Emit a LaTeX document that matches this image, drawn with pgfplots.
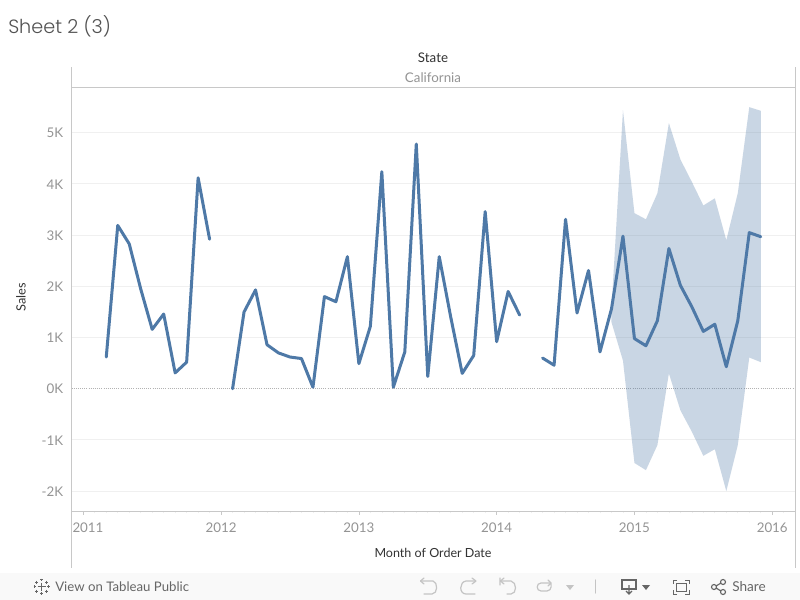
\documentclass[border=0pt]{standalone}
\usepackage{pgfplots}
\pgfplotsset{compat=1.18}
\usepackage{fontspec}
\setmainfont{Open Sans}
\newfontfamily\titlef{Poppins Light}
\newfontfamily\labf{Lato}
\definecolor{lineblue}{HTML}{4E79A7}
\definecolor{gridc}{HTML}{F0F0F0}
\definecolor{axc}{HTML}{C8C8C8}
\definecolor{tickc}{HTML}{949494}
\definecolor{darkc}{HTML}{333333}
\definecolor{barbg}{HTML}{F9F9F9}
\definecolor{iconc}{HTML}{666666}
\definecolor{icond}{HTML}{C4C4C4}
\pgfplotstableread{
m v
2 0.62
3 3.19
4 2.83
5 1.95
6 1.16
7 1.46
8 0.31
9 0.52
10 4.12
11 2.92
12 nan
13 0.00
14 1.50
15 1.93
16 0.86
17 0.70
18 0.62
19 0.59
20 0.03
21 1.80
22 1.70
23 2.58
24 0.49
25 1.22
26 4.24
27 0.03
28 0.72
29 4.78
30 0.24
31 2.58
32 1.40
33 0.30
34 0.65
35 3.46
36 0.92
37 1.90
38 1.44
39 nan
40 0.60
41 0.46
42 3.31
43 1.48
44 2.31
45 0.72
46 1.56
47 2.98
48 0.98
49 0.84
50 1.33
51 2.74
52 2.02
53 1.60
54 1.12
55 1.26
56 0.43
57 1.33
58 3.05
59 2.97
}\salesdata
\begin{document}
\begin{tikzpicture}
\begin{scope}[x=0.75pt,y=-0.75pt]
\path[use as bounding box] (0,0) rectangle (800,600);
\fill[white] (0,0) rectangle (800,600);
\fill[barbg] (0,573) rectangle (800,600);
\end{scope}
\begin{axis}[
  at={(53.625pt,-383.45pt)}, anchor=south west,
  scale only axis, width=542.6pt, height=318pt,
  xmin=-1.028, xmax=61.98, ymin=-2.393, ymax=5.889,
  axis line style={draw=axc,line width=0.75pt},
  axis x line*=bottom, axis y line*=left,
  xtick={0,12,24,36,48,60},
  xticklabels={\hspace*{7pt}2011,2012,2013,2014,2015,2016},
  minor xtick={1,2,3,4,5,6,7,8,9,10,11,13,14,15,16,17,18,19,20,21,22,23,25,26,27,28,29,30,31,32,33,34,35,37,38,39,40,41,42,43,44,45,46,47,49,50,51,52,53,54,55,56,57,58,59,61},
  ytick={-2,-1,1,2,3,4,5},
  yticklabels={-2K,-1K,1K,2K,3K,4K,5K},
  extra y ticks={0}, extra y tick labels={0K},
  extra y tick style={grid=major,major grid style={draw=black!30,line width=0.6pt,densely dotted}},
  ymajorgrids, major grid style={draw=gridc,line width=0.75pt},
  tick align=outside,
  major tick length=2.5pt, minor tick length=1.5pt,
  x tick style={draw=axc,line width=0.5pt}, y tick style={draw=none},
  minor x tick style={draw=gridc,line width=0.5pt},
  tick label style={font=\labf\fontsize{10}{11}\selectfont,text=tickc},
  /pgf/number format/assume math mode=true,
  xticklabel style={yshift=-2.5pt},
  yticklabel style={xshift=-0.2pt,yshift=-0.3pt},
  unbounded coords=jump,
  clip=false,
]
\addplot[draw=none,fill=lineblue,fill opacity=0.3] coordinates {
(46,1.56)(47,5.44)(48,3.43)(49,3.31)(50,3.82)(51,5.19)(52,4.48)(53,4.04)(54,3.58)(55,3.72)(56,2.90)(57,3.82)(58,5.50)(59,5.43)
(59,0.52)(58,0.61)(57,-1.10)(56,-2.00)(55,-1.18)(54,-1.31)(53,-0.84)(52,-0.42)(51,0.30)(50,-1.10)(49,-1.59)(48,-1.45)(47,0.55)(46,1.30)
} --cycle;
\addplot[draw=lineblue,line width=2.25pt,line join=round,line cap=round] table[x=m,y=v] {\salesdata};
\end{axis}
\begin{scope}[x=0.75pt,y=-0.75pt]
% frame lines
\draw[axc,line width=0.75pt] (71.5,67) -- (71.5,568);
\draw[axc,line width=0.75pt] (795.5,67) -- (795.5,568);
\draw[axc,line width=0.75pt] (71.5,87.5) -- (795.5,87.5);
% texts
\node[anchor=west,inner sep=0,text=darkc!85] at (8,26) {\titlef\fontsize{14.4}{18}\selectfont Sheet 2 (3)};
\node[inner sep=0,text=darkc] at (433,58) {\labf\fontsize{10}{11}\selectfont State};
\node[inner sep=0,text=tickc] at (433,78) {\labf\fontsize{10}{11}\selectfont California};
\node[inner sep=0,text=darkc,rotate=90] at (21,297) {\labf\fontsize{9.6}{11}\selectfont Sales};
\node[inner sep=0,text=darkc] at (433,553) {\labf\fontsize{9.4}{11}\selectfont Month of Order Date};
\node[anchor=west,inner sep=0,text=iconc] at (55,587) {\labf\fontsize{9.9}{11}\selectfont View on Tableau Public};
\node[anchor=west,inner sep=0,text=iconc] at (732,587) {\labf\fontsize{10.2}{11}\selectfont Share};
% tableau logo
\begin{scope}[draw=iconc,line width=0.75pt]
\draw (41.5,582.5)--(41.5,590.5) (37.5,586.5)--(45.5,586.5);
\draw (41.5,578.5)--(41.5,581) (40,579.8)--(43,579.8);
\draw (41.5,592)--(41.5,594.5) (40,593.2)--(43,593.2);
\draw (33.5,586.5)--(36,586.5) (34.8,585)--(34.8,588);
\draw (47,586.5)--(49.5,586.5) (48.2,585)--(48.2,588);
\draw (36.5,580.5)--(36.5,583.5) (35,582)--(38,582);
\draw (46.5,580.5)--(46.5,583.5) (45,582)--(48,582);
\draw (36.5,589.5)--(36.5,592.5) (35,591)--(38,591);
\draw (46.5,589.5)--(46.5,592.5) (45,591)--(48,591);
\end{scope}
% undo / redo group
\begin{scope}[draw=icond,line width=0.9pt,line cap=round]
\draw (421,581) -- (433,581) .. controls (438,582) and (438,594) .. (432,594) -- (424,594);
\draw (420.5,581)--(424,578) (420.5,581)--(424,584);
\draw (475,581) -- (466,581) .. controls (459,582) and (459,594) .. (466,594) -- (475,594);
\draw (476,581)--(472,578) (476,581)--(472,584);
\draw (500,578)--(500,585) (500,581) -- (511,581) .. controls (517,582) and (517,594) .. (511,594) -- (507,594);
\draw (500.5,581)--(504,578) (500.5,581)--(504,584);
\draw (551,583)--(541,583) .. controls (536,583) and (536,591) .. (541,591) -- (547,591) .. controls (552,591) and (552,583) .. (550,583);
\draw (551,583)--(548,580) (551,583)--(548,586);
\fill[icond] (566,585)--(574,585)--(570,590)--cycle;
\draw (595.5,580)--(595.5,593);
\end{scope}
% download, fullscreen, share
\begin{scope}[draw=iconc,line width=0.85pt]
\draw (622,580) rectangle (636,589);
\draw (629,585)--(629,594) (626,591)--(629,594)--(632,591);
\fill[iconc] (642,585)--(650,585)--(646,590)--cycle;
\draw[line width=0.7pt] (673,584)--(673,580)--(677,580) (685,580)--(689,580)--(689,584) (689,590)--(689,594)--(685,594) (677,594)--(673,594)--(673,590);
\draw[line width=0.7pt] (676,583) rectangle (686,591);
\draw (714,587) circle (2.5) (723,582) circle (2.5) (723,592) circle (2.5);
\draw (716,586)--(721,583) (716,588)--(721,591);
\end{scope}
\end{scope}
\end{tikzpicture}
\end{document}
